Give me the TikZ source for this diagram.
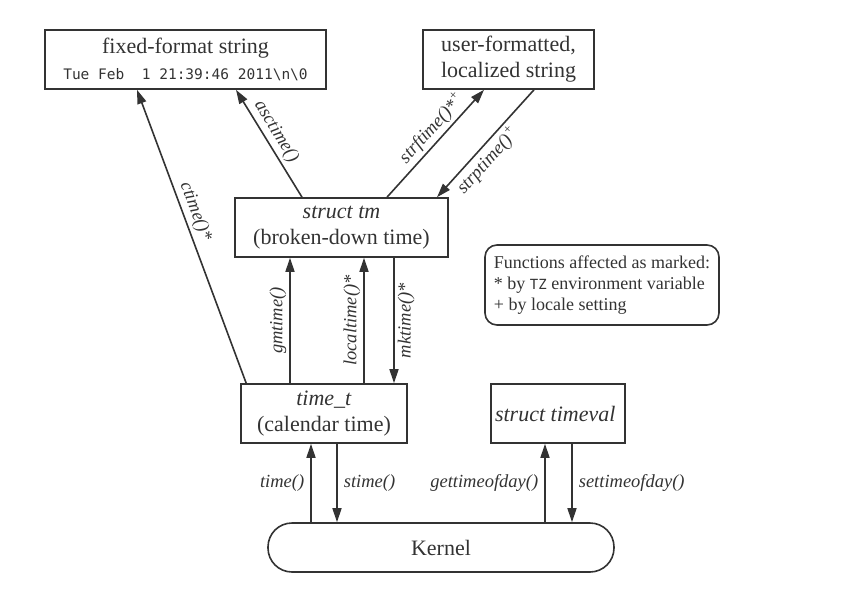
\documentclass[tikz,border=0pt]{standalone}
\usepackage{fontspec}
\setmainfont{Liberation Serif}
\newfontfamily\monofont{DejaVu Sans Mono}
\usepackage{xcolor}
\usepackage{tikz}
\usetikzlibrary{arrows.meta}
\definecolor{ink}{HTML}{333333}
\newcommand{\plusmark}{\raisebox{0.4em}{\fontsize{13}{13}\selectfont +}}
\tikzstyle{timebox}=[rectangle, draw=ink, line width=1.6pt, text=ink, align=center,
        inner sep=4pt, minimum height=59pt, font=\fontsize{22}{26}\selectfont]
\tikzstyle{kernelbox}=[timebox, rounded corners=24pt, minimum height=49pt]
\tikzstyle{notebox}=[timebox, rounded corners=12pt, align=left, minimum height=80pt,
        font=\fontsize{18}{21}\selectfont]
\tikzstyle{call}=[draw=ink, line width=1.6pt, -{Triangle[length=14pt,width=9pt]}]
\tikzstyle{callname}=[text=ink, inner sep=3pt, font=\fontsize{18.5}{21}\selectfont\itshape]

\begin{document}
\begin{tikzpicture}[x=1pt, y=-1pt]
        \useasboundingbox (0,0) rectangle (841,589);
        \node (Fixed) [timebox, minimum width=281pt] at (185.5,59.5)
        {
          fixed-format string\\
          {\monofont\fontsize{14.5}{20}\selectfont Tue~Feb~~1~21:39:46~2011\textbackslash n\textbackslash 0}
        };
        \node (User) [timebox, minimum width=171pt] at (508.5,59.5)
        {
          user-formatted,\\localized string
        };
        \node (Tm) [timebox, minimum width=213pt] at (341.5,227.5)
        {
          \textit{struct tm}\\(broken-down time)
        };
        \node (Timet) [timebox, minimum width=166pt] at (324,413.5)
        {
          \textit{time\_t}\\(calendar time)
        };
        \node (Timeval) [timebox, minimum width=122pt] at (558,413.5)
        {
          \textit{struct timeval}
        };
        \node (Kernel) [kernelbox, minimum width=346pt] at (441,547.5) {Kernel};
        \node (Note) [notebox, minimum width=234pt] at (602,285)
        {
          Functions affected as marked:\\
          * by {\monofont\fontsize{14}{21}\selectfont TZ} environment variable\\
          + by locale setting
        };

        % to the strings
        \draw[call] ([xshift=6pt]Timet.north west) -- ([xshift=-48.5pt]Fixed.south)
          node[callname, pos=0.57, sloped, above] {ctime()*};
        \draw[call] ([xshift=-39.5pt]Tm.north) -- ([xshift=50.5pt]Fixed.south)
          node[callname, pos=0.55, sloped, above] {asctime()};
        \draw[call] ([xshift=45.5pt]Tm.north) -- ([xshift=-24.5pt]User.south)
          node[callname, pos=0.56, sloped, above] {strftime()*\plusmark};
        \draw[call] ([xshift=25.5pt]User.south) -- ([xshift=95.5pt]Tm.north)
          node[callname, pos=0.58, sloped, below] {strptime()\plusmark};

        % between time_t and struct tm
        \draw[call] ([xshift=-34pt]Timet.north) -- ([xshift=-51.5pt]Tm.south)
          node[callname, midway, rotate=90, anchor=south] {gmtime()};
        \draw[call] ([xshift=40pt]Timet.north) -- ([xshift=22.5pt]Tm.south)
          node[callname, midway, rotate=90, anchor=south] {localtime()*};
        \draw[call] ([xshift=52.5pt]Tm.south) -- ([xshift=70pt]Timet.north)
          node[callname, midway, rotate=90, anchor=north] {mktime()*};

        % kernel calls
        \draw[call] ([xshift=-130pt]Kernel.north) -- ([xshift=-13pt]Timet.south)
          node[callname, midway, left=3pt] {time()};
        \draw[call] ([xshift=13pt]Timet.south) -- ([xshift=-104pt]Kernel.north)
          node[callname, midway, right=3pt] {stime()};
        \draw[call] ([xshift=104pt]Kernel.north) -- ([xshift=-13pt]Timeval.south)
          node[callname, midway, left=3pt] {gettimeofday()};
        \draw[call] ([xshift=14pt]Timeval.south) -- ([xshift=131pt]Kernel.north)
          node[callname, midway, right=3pt] {settimeofday()};
\end{tikzpicture}
\end{document}
